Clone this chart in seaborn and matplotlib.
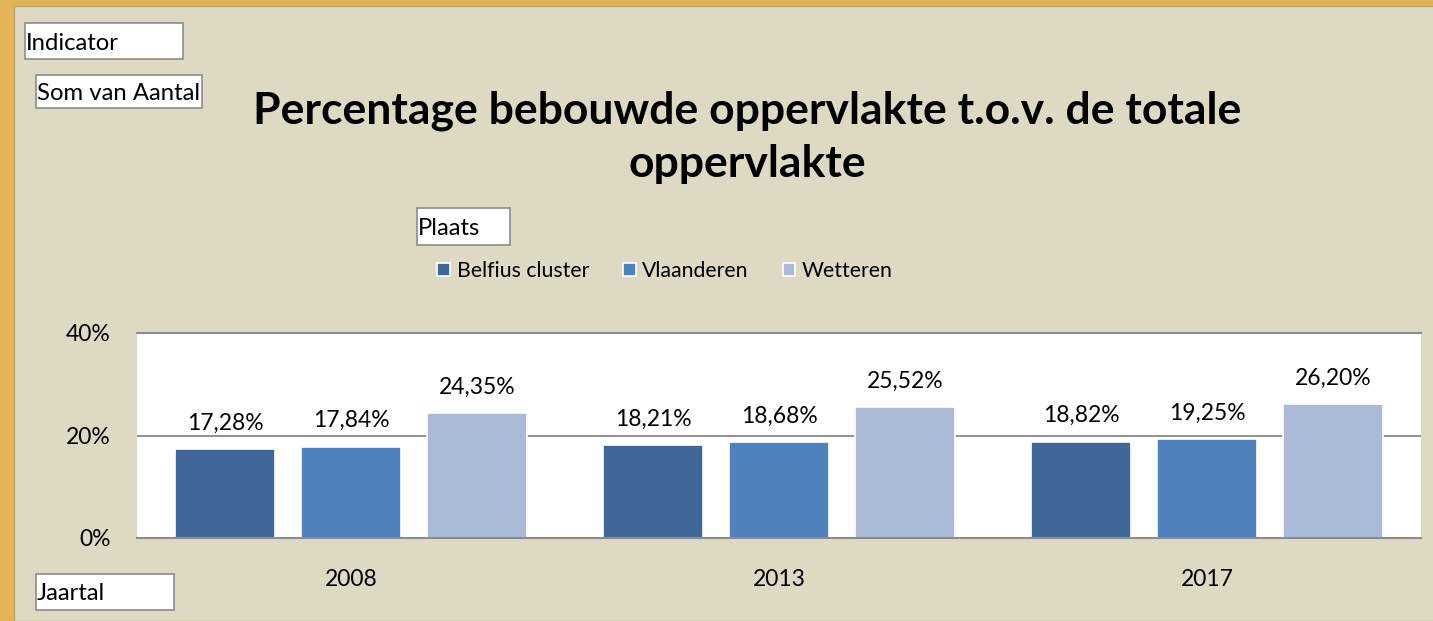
import pandas as pd
import numpy as np
import matplotlib
matplotlib.use("Agg")
import matplotlib.pyplot as plt
import seaborn as sns
from matplotlib.patches import Rectangle

# === Data ===
jaren = ["2008", "2013", "2017"]
plaatsen = ["Belfius cluster", "Vlaanderen", "Wetteren"]
belfius = [17.28, 18.21, 18.82]
vlaanderen = [17.84, 18.68, 19.25]
wetteren = [24.35, 25.52, 26.20]

df = pd.DataFrame({
    "Jaartal": jaren * 3,
    "Plaats": [plaatsen[0]] * 3 + [plaatsen[1]] * 3 + [plaatsen[2]] * 3,
    "Waarde": belfius + vlaanderen + wetteren,
})

kleuren = ["#3F6899", "#4F81BD", "#AABAD7"]

sns.set_style("white")
plt.rcParams["font.family"] = ["Lato", "DejaVu Sans"]
plt.rcParams["text.color"] = "black"

FS = 16.5  # body text size

W, H = 1433, 621
fig = plt.figure(figsize=(W / 100, H / 100), dpi=100, facecolor="#E3B35A")
fig.patches.append(Rectangle((14 / W, 0), 1, 1 - 6 / H, transform=fig.transFigure,
                             facecolor="#DDD9C3", edgecolor="#BFA66A", linewidth=1, zorder=-5))

ax = fig.add_axes([137 / W, 1 - 538 / H, 1284 / W, 205 / H])
ax.set_facecolor("white")

sns.barplot(data=df, x="Jaartal", y="Waarde", hue="Plaats", hue_order=plaatsen,
            palette=kleuren, saturation=1, width=0.883, gap=0.206, edgecolor="white",
            linewidth=1.2, ax=ax, legend=True)

ax.set_ylim(0, 40)
ax.set_yticks([0, 20, 40])
ax.set_yticklabels(["0%", "20%", "40%"])
ax.set_xlabel("")
ax.set_ylabel("")
ax.tick_params(axis="both", length=0, labelsize=FS, colors="black")
ax.tick_params(axis="y", pad=19)
ax.tick_params(axis="x", pad=22)
ax.axhline(20, color="#7F7F7F", linewidth=1.2, zorder=0.5)
for s in ["left", "right"]:
    ax.spines[s].set_visible(False)
for s in ["top", "bottom"]:
    ax.spines[s].set_color("#8C8C8C")
    ax.spines[s].set_linewidth(1.5)

for cont in ax.containers:
    ax.bar_label(cont, labels=[f"{b.get_height():.2f}%".replace(".", ",") for b in cont],
                 padding=11, fontsize=FS)

handles, labels = ax.get_legend_handles_labels()
ax.get_legend().remove()
fig.legend(handles, labels, loc="center", bbox_to_anchor=(665 / W, 1 - 271 / H), ncol=3,
           frameon=False, fontsize=15.3, handlelength=0.6, handleheight=0.6,
           handletextpad=0.3, columnspacing=1.6)

fig.text(747 / W, 1 - 111 / H, "Percentage bebouwde oppervlakte t.o.v. de totale",
         ha="center", va="center", fontsize=32, fontweight="bold")
fig.text(747 / W, 1 - 164 / H, "oppervlakte", ha="center", va="center",
         fontsize=32, fontweight="bold")

# pivot field buttons
for label, x0, y0, x1, y1 in [("Indicator", 25, 23, 183, 59),
                              ("Som van Aantal", 36, 75, 202, 108),
                              ("Plaats", 417, 208, 510, 245),
                              ("Jaartal", 36, 574, 174, 610)]:
    fig.patches.append(Rectangle((x0 / W, 1 - y1 / H), (x1 - x0) / W, (y1 - y0) / H,
                                 transform=fig.transFigure, facecolor="white",
                                 edgecolor="#8C8C8C", linewidth=1.2, zorder=2))
    fig.text((x0 + 1) / W, 1 - (y0 + y1) / 2 / H - 2 / H, label, ha="left", va="center",
             fontsize=17.2, zorder=3)

fig.savefig("out.png", dpi=100, facecolor=fig.get_facecolor())
